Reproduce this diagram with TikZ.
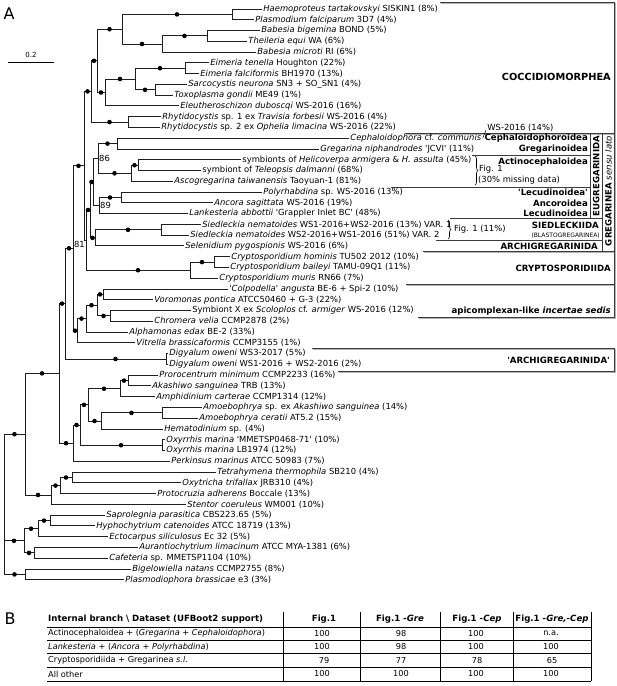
\documentclass[tikz,border=0pt]{standalone}
\usepackage{fontspec}
\setmainfont{DejaVu Sans}
\usetikzlibrary{decorations.pathreplacing}
\definecolor{TreeGray}{RGB}{30,30,30}
\definecolor{BoxGray}{RGB}{60,60,60}
\definecolor{ShadeGray}{RGB}{180,180,180}
\newcommand{\apo}{\textquotesingle}

\begin{document}
\begin{tikzpicture}[x=1pt,y=-1pt,
  font=\fontsize{8.4}{10}\selectfont,
  leaf/.style={anchor=west,inner sep=1.2pt},
  grp/.style={anchor=east,inner sep=0pt,font=\fontsize{8.6}{10}\selectfont\bfseries},
  sup/.style={circle,fill=black,inner sep=0pt,minimum size=4.6pt,pos=.75},
  br/.style={draw=TreeGray,line width=1pt},
  boxl/.style={draw=BoxGray,line width=0.8pt},
  shade/.style={draw=ShadeGray,line width=1.2pt},
  brc/.style={draw=black,line width=0.6pt,decorate,decoration={brace,amplitude=3pt}},
  cell/.style={inner sep=0pt,font=\fontsize{8.2}{9}\selectfont},
  hcell/.style={inner sep=0pt,font=\fontsize{8.6}{9}\selectfont\bfseries}]
\useasboundingbox (0,0) rectangle (617,686);

% Panel letters and scale
\node (labA) at (9,14) {\fontsize{16}{18}\selectfont A};
\node (labB) at (10,619) {\fontsize{16}{18}\selectfont B};
\coordinate (sb1) at (8,62);
\coordinate (sb2) at (54,62);
\draw[line width=0.8pt] (sb1) -- (sb2) node[midway,above=1pt,font=\fontsize{7}{8}\selectfont] (sbl) {0.2};

% Boxes (shadow first)
\begin{scope}[shift={(1.3,1.3)}]
\draw[shade] (440,2) -- (614,2) -- (614,133) -- (405,133);
\draw[shade] (614,133) -- (614,251) -- (423,251);
\draw[shade] (614,251) -- (614,284) -- (406,284);
\draw[shade] (614,284) -- (614,317) -- (418,317);
\draw[shade] (312,348) -- (614,348) -- (614,371) -- (338,371);
\end{scope}
\draw[boxl] (440,2) -- (614,2) -- (614,133) -- (405,133);
\draw[boxl] (614,133) -- (614,251) -- (423,251);
\draw[boxl] (590,133) -- (590,218.5);
\draw[boxl] (602,133) -- (602,251);
\draw[boxl] (472,155.5) -- (590,155.5);
\draw[boxl] (391,187) -- (590,187);
\draw[boxl] (450,218.5) -- (602,218.5);
\draw[boxl] (436,240.5) -- (602,240.5);
\draw[boxl] (614,251) -- (614,284) -- (406,284);
\draw[boxl] (614,284) -- (614,317) -- (418,317);
\draw[boxl] (312,348) -- (614,348) -- (614,371) -- (338,371);

% Leaves
\node[leaf] (haem) at (262,9.00) {\textit{Haemoproteus tartakovskyi} SISKIN1 (8\%)};
\node[leaf] (pfal) at (254,19.77) {\textit{Plasmodium falciparum} 3D7 (4\%)};
\node[leaf] (bbig) at (260,30.54) {\textit{Babesia bigemina} BOND (5\%)};
\node[leaf] (tequ) at (247,41.31) {\textit{Theileria equi} WA (6\%)};
\node[leaf] (bmic) at (256,52.08) {\textit{Babesia microti} RI (6\%)};
\node[leaf] (eten) at (209,62.85) {\textit{Eimeria tenella} Houghton (22\%)};
\node[leaf] (efal) at (199,73.62) {\textit{Eimeria falciformis} BH1970 (13\%)};
\node[leaf] (sneu) at (187,84.39) {\textit{Sarcocystis neurona} SN3 + SO\_SN1 (4\%)};
\node[leaf] (tgon) at (173,95.16) {\textit{Toxoplasma gondii} ME49 (1\%)};
\node[leaf] (eleu) at (179,105.93) {\textit{Eleutheroschizon duboscqi} WS-2016 (16\%)};
\node[leaf] (rhy1) at (161,116.70) {\textit{Rhytidocystis} sp. 1 ex \textit{Travisia forbesii} WS-2016 (4\%)};
\node[leaf] (rhy2) at (160,127.47) {\textit{Rhytidocystis} sp. 2 ex \textit{Ophelia limacina} WS-2016 (22\%)};
\node[leaf] (ceph) at (349,138.24) {\textit{Cephaloidophora} cf. \textit{communis}};
\node[leaf] (gnip) at (319,149.01) {\textit{Gregarina niphandrodes} \apo JCVI\apo\ (11\%)};
\node[leaf] (heli) at (241,159.78) {symbionts of \textit{Helicoverpa armigera} \& \textit{H. assulta} (45\%)};
\node[leaf] (tele) at (201,170.55) {symbiont of \textit{Teleopsis dalmanni} (68\%)};
\node[leaf] (asco) at (173,181.32) {\textit{Ascogregarina taiwanensis} Taoyuan-1 (81\%)};
\node[leaf] (poly) at (262,192.09) {\textit{Polyrhabdina} sp. WS-2016 (13\%)};
\node[leaf] (anco) at (213,202.86) {\textit{Ancora sagittata} WS-2016 (19\%)};
\node[leaf] (lank) at (188,213.63) {\textit{Lankesteria abbottii} \apo Grappler Inlet BC\apo\ (48\%)};
\node[leaf] (sie1) at (201,224.40) {\textit{Siedleckia nematoides} WS1-2016+WS2-2016 (13\%) VAR. 1};
\node[leaf] (sie2) at (189,235.17) {\textit{Siedleckia nematoides} WS2-2016+WS1-2016 (51\%) VAR. 2};
\node[leaf] (sele) at (184,245.94) {\textit{Selenidium pygospionis} WS-2016 (6\%)};
\node[leaf] (chom) at (230,256.71) {\textit{Cryptosporidium hominis} TU502 2012 (10\%)};
\node[leaf] (cbai) at (229,267.48) {\textit{Cryptosporidium baileyi} TAMU-09Q1 (11\%)};
\node[leaf] (cmur) at (218,278.25) {\textit{Cryptosporidium muris} RN66 (7\%)};
\node[leaf] (colp) at (228,289.02) {\textit{\apo Colpodella\apo\ angusta} BE-6 + Spi-2 (10\%)};
\node[leaf] (voro) at (153,299.79) {\textit{Voromonas pontica} ATCC50460 + G-3 (22\%)};
\node[leaf] (symx) at (191,310.56) {Symbiont X ex \textit{Scoloplos} cf. \textit{armiger} WS-2016 (12\%)};
\node[leaf] (chro) at (153,321.33) {\textit{Chromera velia} CCMP2878 (2\%)};
\node[leaf] (alph) at (128,332.10) {\textit{Alphamonas edax} BE-2 (33\%)};
\node[leaf] (vitr) at (135,342.87) {\textit{Vitrella brassicaformis} CCMP3155 (1\%)};
\node[leaf] (dig1) at (168,353.64) {\textit{Digyalum oweni} WS3-2017 (5\%)};
\node[leaf] (dig2) at (168,364.41) {\textit{Digyalum oweni} WS1-2016 + WS2-2016 (2\%)};
\node[leaf] (pror) at (158,375.18) {\textit{Prorocentrum minimum} CCMP2233 (16\%)};
\node[leaf] (akas) at (151,385.95) {\textit{Akashiwo sanguinea} TRB (13\%)};
\node[leaf] (amph) at (155,396.72) {\textit{Amphidinium carterae} CCMP1314 (12\%)};
\node[leaf] (amo1) at (202,407.49) {\textit{Amoebophrya} sp. ex \textit{Akashiwo sanguinea} (14\%)};
\node[leaf] (amo2) at (198,418.26) {\textit{Amoebophrya ceratii} AT5.2 (15\%)};
\node[leaf] (hema) at (163,429.03) {\textit{Hematodinium} sp. (4\%)};
\node[leaf] (oxy1) at (165,439.80) {\textit{Oxyrrhis marina} \apo MMETSP0468-71\apo\ (10\%)};
\node[leaf] (oxy2) at (165,450.57) {\textit{Oxyrrhis marina} LB1974 (12\%)};
\node[leaf] (perk) at (170,461.34) {\textit{Perkinsus marinus} ATCC 50983 (7\%)};
\node[leaf] (tetr) at (216,472.11) {\textit{Tetrahymena thermophila} SB210 (4\%)};
\node[leaf] (oxyt) at (181,482.88) {\textit{Oxytricha trifallax} JRB310 (4\%)};
\node[leaf] (prot) at (156,493.65) {\textit{Protocruzia adherens} Boccale (13\%)};
\node[leaf] (sten) at (186,504.42) {\textit{Stentor coeruleus} WM001 (10\%)};
\node[leaf] (sapr) at (105,515.19) {\textit{Saprolegnia parasitica} CBS223.65 (5\%)};
\node[leaf] (hyph) at (95,525.96) {\textit{Hyphochytrium catenoides} ATCC 18719 (13\%)};
\node[leaf] (ecto) at (108,536.73) {\textit{Ectocarpus siliculosus} Ec 32 (5\%)};
\node[leaf] (aura) at (138,547.50) {\textit{Aurantiochytrium limacinum} ATCC MYA-1381 (6\%)};
\node[leaf] (cafe) at (108,558.27) {\textit{Cafeteria} sp. MMETSP1104 (10\%)};
\node[leaf] (bige) at (131,569.04) {\textit{Bigelowiella natans} CCMP2755 (8\%)};
\node[leaf] (plbr) at (124,579.81) {\textit{Plasmodiophora brassicae} e3 (3\%)};

% Inner nodes
\coordinate (nHP) at (232,14.4);
\coordinate (nBT) at (207,35.9);
\coordinate (nPiro) at (162,44.0);
\coordinate (nAcon) at (122,29.2);
\coordinate (nEim) at (185,68.2);
\coordinate (nST) at (155,89.8);
\coordinate (nCore) at (135,79.0);
\coordinate (nCocc) at (105,92.5);
\coordinate (nAC) at (97,60.8);
\coordinate (nRhy) at (128,122.1);
\coordinate (nCoccm) at (91,91.4);
\coordinate (nCG) at (117,143.6);
\coordinate (nHT) at (138,165.2);
\coordinate (nActino) at (131,173.3);
\coordinate (n86) at (98,158.4);
\coordinate (nPA) at (121,197.5);
\coordinate (n89) at (99,205.6);
\coordinate (nEug) at (93,182.0);
\coordinate (nSied) at (161,229.8);
\coordinate (nSS) at (95,237.9);
\coordinate (nGreg) at (90,210.0);
\coordinate (nCry2) at (214,262.1);
\coordinate (nCry) at (190,270.2);
\coordinate (nGC) at (86,240.1);
\coordinate (nP2) at (84,165.8);
\coordinate (nCV) at (103,294.4);
\coordinate (nSC) at (110,315.9);
\coordinate (nCh1) at (97,305.2);
\coordinate (nCh2) at (86,318.6);
\coordinate (nCh3) at (77,330.7);
\coordinate (nP3) at (73,248.3);
\coordinate (nDig) at (166,359.0);
\coordinate (nP4) at (65,303.6);
\coordinate (nPA2) at (128,380.6);
\coordinate (nPAA) at (120,388.7);
\coordinate (nAmo) at (162,412.9);
\coordinate (nAH) at (101,421.0);
\coordinate (nDc) at (88,404.9);
\coordinate (nOxy) at (162,445.2);
\coordinate (nDino) at (80,425.0);
\coordinate (nDP) at (73,443.2);
\coordinate (nMyz) at (59,373.4);
\coordinate (nTO) at (72,477.5);
\coordinate (nTOP) at (60,485.6);
\coordinate (nCil) at (51,495.0);
\coordinate (nAlv) at (25,434.2);
\coordinate (nSH) at (50,520.6);
\coordinate (nSHE) at (38,528.7);
\coordinate (nAC2) at (34,552.9);
\coordinate (nStr) at (24,540.8);
\coordinate (nRhi) at (25,574.4);
\coordinate (nRoot) at (4,504.3);

% Branches to leaves
\draw[br] (nHP) |- (haem.west) (nHP) |- (pfal.west);
\draw[br] (nBT) |- (bbig.west) (nBT) |- (tequ.west);
\draw[br] (nPiro) |- (bmic.west);
\draw[br] (nEim) |- (eten.west) (nEim) |- (efal.west);
\draw[br] (nST) |- (sneu.west) (nST) |- (tgon.west);
\draw[br] (nCocc) |- (eleu.west);
\draw[br] (nRhy) |- (rhy1.west) (nRhy) |- (rhy2.west);
\draw[br] (nCG) |- (ceph.west) (nCG) |- (gnip.west);
\draw[br] (nHT) |- (heli.west) (nHT) |- (tele.west);
\draw[br] (nActino) |- (asco.west);
\draw[br] (nPA) |- (poly.west) (nPA) |- (anco.west);
\draw[br] (n89) |- (lank.west);
\draw[br] (nSied) |- (sie1.west) (nSied) |- (sie2.west);
\draw[br] (nSS) |- (sele.west);
\draw[br] (nCry2) |- (chom.west) (nCry2) |- (cbai.west);
\draw[br] (nCry) |- (cmur.west);
\draw[br] (nCV) |- (colp.west) (nCV) |- (voro.west);
\draw[br] (nSC) |- (symx.west) (nSC) |- (chro.west);
\draw[br] (nCh2) |- (alph.west);
\draw[br] (nCh3) |- (vitr.west);
\draw[br] (nDig) |- (dig1.west) (nDig) |- (dig2.west);
\draw[br] (nPA2) |- (pror.west) (nPA2) |- (akas.west);
\draw[br] (nPAA) |- (amph.west);
\draw[br] (nAmo) |- (amo1.west) (nAmo) |- (amo2.west);
\draw[br] (nAH) |- (hema.west);
\draw[br] (nOxy) |- (oxy1.west) (nOxy) |- (oxy2.west);
\draw[br] (nDP) |- (perk.west);
\draw[br] (nTO) |- (tetr.west) (nTO) |- (oxyt.west);
\draw[br] (nTOP) |- (prot.west);
\draw[br] (nCil) |- (sten.west);
\draw[br] (nSH) |- (sapr.west) (nSH) |- (hyph.west);
\draw[br] (nSHE) |- (ecto.west);
\draw[br] (nAC2) |- (aura.west) (nAC2) |- (cafe.west);
\draw[br] (nRhi) |- (bige.west) (nRhi) |- (plbr.west);

% Inner branches, dots = full support
\draw[br] (nAcon) |- (nHP) node[sup]{} (nAcon) |- (nPiro) node[sup]{};
\draw[br] (nPiro) |- (nBT) node[sup]{};
\draw[br] (nCore) |- (nEim) node[sup]{} (nCore) |- (nST) node[sup]{};
\draw[br] (nCocc) |- (nCore) node[sup]{};
\draw[br] (nAC) |- (nAcon) node[sup]{} (nAC) |- (nCocc) node[sup]{};
\draw[br] (nCoccm) |- (nAC) node[sup]{} (nCoccm) |- (nRhy) node[sup]{};
\draw[br] (n86) |- (nCG) node[sup]{} (n86) |- (nActino) node[sup]{};
\draw[br] (nActino) |- (nHT) node[sup]{};
\draw[br] (n89) |- (nPA) node[sup]{};
\draw[br] (nEug) |- (n86) (nEug) |- (n89);
\draw[br] (nSS) |- (nSied) node[sup]{};
\draw[br] (nGreg) |- (nEug) node[sup]{} (nGreg) |- (nSS) node[sup]{};
\draw[br] (nCry) |- (nCry2) node[sup]{};
\draw[br] (nGC) |- (nGreg) node[sup]{} (nGC) |- (nCry) node[sup]{};
\draw[br] (nP2) |- (nCoccm) node[sup]{} (nP2) |- (nGC);
\draw[br] (nCh1) |- (nCV) node[sup]{} (nCh1) |- (nSC) node[sup]{};
\draw[br] (nCh2) |- (nCh1) node[sup]{};
\draw[br] (nCh3) |- (nCh2) node[sup]{};
\draw[br] (nP3) |- (nP2) node[sup]{} (nP3) |- (nCh3) node[sup]{};
\draw[br] (nP4) |- (nP3) node[sup]{} (nP4) |- (nDig) node[sup]{};
\draw[br] (nPAA) |- (nPA2) node[sup]{};
\draw[br] (nDc) |- (nPAA) node[sup]{} (nDc) |- (nAH) node[sup]{};
\draw[br] (nAH) |- (nAmo) node[sup]{};
\draw[br] (nDino) |- (nDc) node[sup]{} (nDino) |- (nOxy) node[sup]{};
\draw[br] (nDP) |- (nDino) node[sup]{};
\draw[br] (nMyz) |- (nP4) node[sup]{} (nMyz) |- (nDP) node[sup]{};
\draw[br] (nTOP) |- (nTO) node[sup]{};
\draw[br] (nCil) |- (nTOP) node[sup]{};
\draw[br] (nAlv) |- (nMyz) node[sup]{} (nAlv) |- (nCil) node[sup]{};
\draw[br] (nSHE) |- (nSH) node[sup]{};
\draw[br] (nStr) |- (nSHE) node[sup]{} (nStr) |- (nAC2) node[sup]{};
\draw[br] (nRoot) |- (nAlv) node[sup]{} (nRoot) |- (nStr) node[sup]{} (nRoot) |- (nRhi) node[sup]{};

% Support values
\node[anchor=west,inner sep=1pt] (s86) at (n86) {86};
\node[anchor=west,inner sep=1pt] (s89) at (n89) {89};
\node[anchor=north east,inner sep=1pt] (s81) at (nGC) {81};

% Callout and braces
\node[leaf] (cephws) at (486,127.5) {WS-2016 (14\%)};
\draw[line width=0.5pt] (ceph.east) -- (cephws.base west);
\coordinate (b1t) at (475,156);
\coordinate (b1b) at (475,185);
\draw[brc] (b1t) -- (b1b);
\node[anchor=west,inner sep=0pt] (fig1a) at (479,169) {Fig. 1};
\node[anchor=west,inner sep=0pt] (miss) at (478,180) {(30\% missing data)};
\coordinate (b2t) at (448,220);
\coordinate (b2b) at (448,239);
\draw[brc] (b2t) -- (b2b);
\node[anchor=west,inner sep=0pt] (fig1b) at (454,229.5) {Fig. 1 (11\%)};

% Group labels
\node[grp,font=\fontsize{9.8}{11}\selectfont\bfseries] (coccm) at (611,77) {COCCIDIOMORPHEA};
\node[grp] (cephg) at (588,138.2) {Cephaloidophoroidea};
\node[grp] (gregg) at (588,149) {Gregarinoidea};
\node[grp] (actg) at (588,162.5) {Actinocephaloidea};
\node[grp] (lecq) at (588,192.1) {\apo Lecudinoidea\apo};
\node[grp] (ancg) at (588,202.9) {Ancoroidea};
\node[grp] (lecg) at (588,213.6) {Lecudinoidea};
\node[grp] (sieg) at (599,225) {SIEDLECKIIDA};
\node[anchor=east,inner sep=0pt,font=\fontsize{6}{7}\selectfont] (blag) at (600,235.8) {(BLASTOGREGARINEA)};
\node[grp] (arcg) at (598,245.9) {ARCHIGREGARINIDA};
\node[grp,rotate=90,anchor=center] (eug) at (596.2,176) {EUGREGARINIDA};
\node[grp,rotate=90,anchor=center] (gsl) at (608.3,191) {\textbf{GREGARINEA} \textit{\mdseries sensu lato}};
\node[grp] (cryg) at (611,268) {CRYPTOSPORIDIIDA};
\node[grp] (incg) at (611,311) {apicomplexan-like \textit{incertae sedis}};
\node[grp] (arq) at (610,360) {\apo ARCHIGREGARINIDA\apo};

% Table B
\draw[line width=0.7pt] (47,627) -- (591,627);
\draw[line width=0.5pt] (47,640) -- (591,640);
\draw[line width=0.5pt] (47,653.5) -- (591,653.5);
\draw[line width=0.5pt] (47,667) -- (591,667);
\draw[line width=0.7pt] (47,681) -- (591,681);
\draw[line width=0.7pt] (283,612) -- (283,681);
\draw[line width=0.7pt] (360,612) -- (360,681);
\draw[line width=0.7pt] (440,612) -- (440,681);
\draw[line width=0.7pt] (513,612) -- (513,681);
\draw[line width=0.7pt] (591,612) -- (591,681);

\node[hcell,anchor=west] (h0) at (48,619) {Internal branch \textbackslash\ Dataset (UFBoot2 support)};
\node[hcell] (h1) at (324,619) {Fig.1};
\node[hcell] (h2) at (400,619) {Fig.1 \textit{-Gre}};
\node[hcell] (h3) at (477,619) {Fig.1 \textit{-Cep}};
\node[hcell] (h4) at (552,619) {Fig.1 \textit{-Gre,-Cep}};

\node[cell,anchor=west] (r1) at (48,633.5) {Actinocephaloidea + (\textit{Gregarina} + \textit{Cephaloidophora})};
\node[cell,anchor=west] (r2) at (48,647) {\textit{Lankesteria} + (\textit{Ancora} + \textit{Polyrhabdina})};
\node[cell,anchor=west] (r3) at (48,660.5) {Cryptosporidiida + Gregarinea \textit{s.l.}};
\node[cell,anchor=west] (r4) at (48,674) {All other};

\node[cell] (v11) at (322,633.5) {100};
\node[cell] (v12) at (401,633.5) {98};
\node[cell] (v13) at (476,633.5) {100};
\node[cell] (v14) at (551,633.5) {n.a.};
\node[cell] (v21) at (322,647) {100};
\node[cell] (v22) at (401,647) {98};
\node[cell] (v23) at (476,647) {100};
\node[cell] (v24) at (551,647) {100};
\node[cell] (v31) at (324,660.5) {79};
\node[cell] (v32) at (401,660.5) {77};
\node[cell] (v33) at (477,660.5) {78};
\node[cell] (v34) at (552,660.5) {65};
\node[cell] (v41) at (322,674) {100};
\node[cell] (v42) at (401,674) {100};
\node[cell] (v43) at (476,674) {100};
\node[cell] (v44) at (551,674) {100};

\end{tikzpicture}
\end{document}
